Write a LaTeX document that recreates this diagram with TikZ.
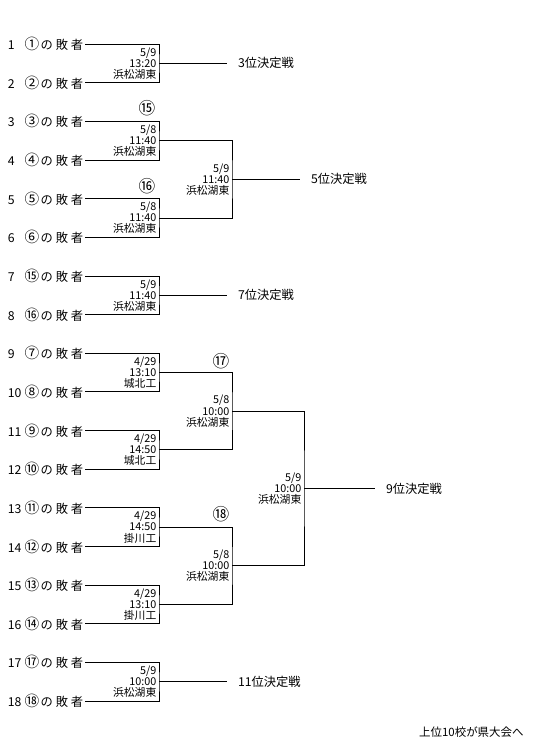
\documentclass[tikz,border=0pt]{standalone}
\usepackage{fontspec}
\setmainfont{Noto Sans CJK JP}
\usetikzlibrary{calc}
\begin{document}
\begin{tikzpicture}[x=0.75pt,y=-0.75pt,line width=0.6pt,
    entry/.style={anchor=east,inner sep=1pt,font=\fontsize{9.2}{9.2}\selectfont},
    info/.style={anchor=east,align=right,inner sep=0.5pt,xshift=-1.2pt,font=\fontsize{8.1}{8.3}\selectfont},
    result/.style={anchor=west,inner xsep=8pt,inner ysep=0pt,font=\fontsize{9.2}{9.2}\selectfont},
    seed/.style={inner sep=0pt,font=\fontsize{12.5}{12.5}\selectfont}]
  \useasboundingbox (0,0) rectangle (536,754);

  \foreach \n/\c [evaluate=\n as \y using 44+(\n-1)*38.65] in
      {1/①,2/②,3/③,4/④,5/⑤,6/⑥,7/⑮,8/⑯,9/⑦,10/⑧,11/⑨,12/⑩,13/⑪,14/⑫,15/⑬,16/⑭,17/⑰,18/⑱}
    \node[entry] (r\n) at (85,\y) {\makebox[12.5pt][l]{\n}\makebox[11pt][l]{\fontsize{11}{11}\selectfont\c}\hspace{1pt}の\hspace{2.2pt}敗\hspace{2.2pt}者};

  \foreach \k/\d/\t/\v in {1/{5/9}/13:20/浜松湖東, 2/{5/8}/11:40/浜松湖東, 3/{5/8}/11:40/浜松湖東,
      4/{5/9}/11:40/浜松湖東, 5/{4/29}/13:10/城北工, 6/{4/29}/14:50/城北工,
      7/{4/29}/14:50/掛川工, 8/{4/29}/13:10/掛川工, 9/{5/9}/10:00/浜松湖東} {
    \pgfmathtruncatemacro\a{2*\k-1}
    \pgfmathtruncatemacro\b{2*\k}
    \coordinate (m\k) at (159,{44+(2*\k-1.5)*38.65});
    \draw (r\a.east) -| (m\k) |- (r\b.east);
    \node[info] (i\k) at (m\k) {\d\\\t\\\v};
  }

  \coordinate (s1) at ($(m2)!.5!(m3)+(73,0)$);
  \coordinate (s2) at ($(m5)!.5!(m6)+(73,0)$);
  \coordinate (s3) at ($(m7)!.5!(m8)+(73,0)$);
  \draw (m2) -| (s1) |- (m3);
  \draw (m5) -| (s2) |- (m6);
  \draw (m7) -| (s3) |- (m8);
  \node[info] (j1) at (s1) {5/9\\11:40\\浜松湖東};
  \node[info] (j2) at (s2) {5/8\\10:00\\浜松湖東};
  \node[info] (j3) at (s3) {5/8\\10:00\\浜松湖東};

  \coordinate (t1) at ($(s2)!.5!(s3)+(72,0)$);
  \draw (s2) -| (t1) |- (s3);
  \node[info] (k1) at (t1) {5/9\\10:00\\浜松湖東};

  \node[seed] (n15) at (147,108) {⑮};
  \node[seed] (n16) at (147,186) {⑯};
  \node[seed] (n17) at (221,361) {⑰};
  \node[seed] (n18) at (221,514) {⑱};

  \node[result] (w3) at ($(m1)+(68,0)$) {3位決定戦};
  \node[result] (w5) at ($(s1)+(68,0)$) {5位決定戦};
  \node[result] (w7) at ($(m4)+(68,0)$) {7位決定戦};
  \node[result] (w9) at ($(t1)+(71,0)$) {9位決定戦};
  \node[result] (w11) at ($(m9)+(68,0)$) {11位決定戦};
  \draw (m1) -- (w3.west);
  \draw (s1) -- (w5.west);
  \draw (m4) -- (w7.west);
  \draw (t1) -- (w9.west);
  \draw (m9) -- (w11.west);

  \node[anchor=east,inner sep=0pt,font=\fontsize{8.6}{8.6}\selectfont] (note) at (524,732) {上位10校が県大会へ};
\end{tikzpicture}
\end{document}
